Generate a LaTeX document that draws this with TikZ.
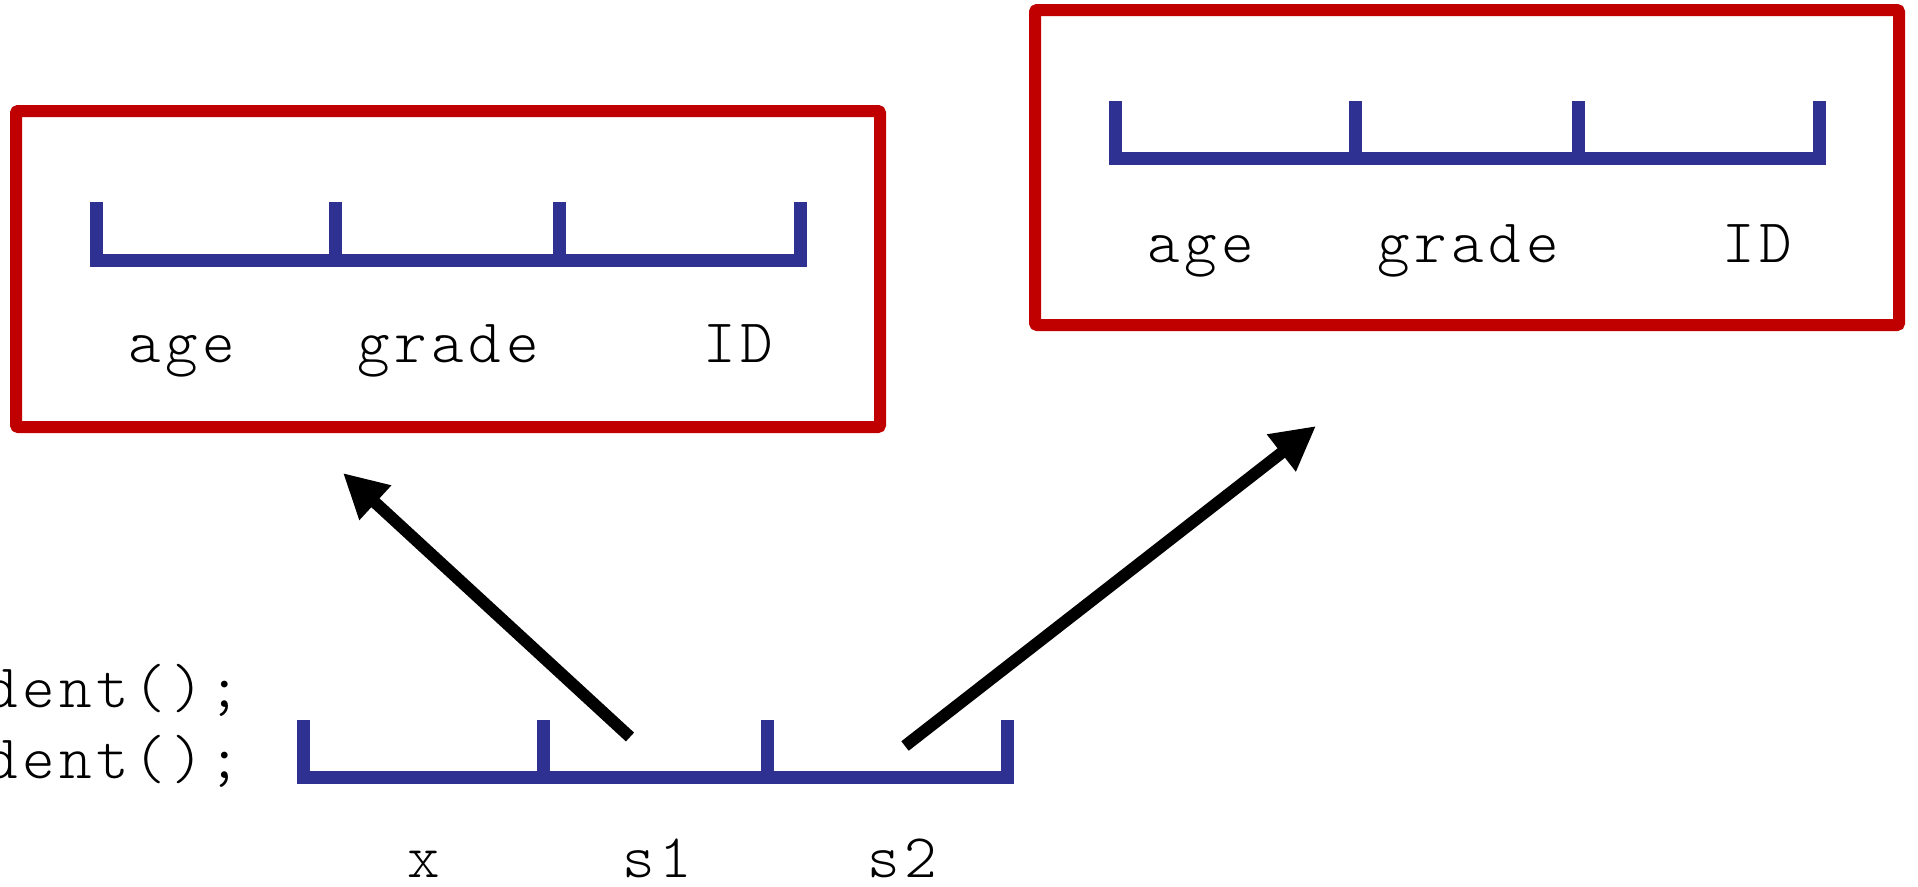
\documentclass[tikz,border=0pt]{standalone}
\usepackage{fontspec}
\newfontfamily\monofont[LetterSpace=7.5]{Latin Modern Mono Light}
\usetikzlibrary{arrows.meta}
\definecolor{boxred}{HTML}{C00000}
\definecolor{barblue}{HTML}{2E3192}
\tikzset{
  redbox/.style={draw=boxred, line width=12pt, rectangle, rounded corners=1pt, line join=round, inner sep=0pt, outer sep=0pt},
  bar/.style={draw=barblue, line width=13pt},
  barbase/.style={draw=barblue, line width=13pt, line cap=rect},
  ptr/.style={draw=black, line width=12pt, -{Triangle[length=44pt,width=44pt]}},
  boxlabel/.style={font=\monofont\fontsize{62}{62}\selectfont, anchor=base, inner sep=0pt},
  varlabel/.style={font=\monofont\fontsize{62}{62}\selectfont, anchor=base, inner sep=0pt, text depth=0pt},
  codeline/.style={font=\monofont\fontsize{62}{62}\selectfont, anchor=base east, inner sep=0pt}
}
\begin{document}
\begin{tikzpicture}[x=1pt, y=-1pt]
\useasboundingbox (0,0) rectangle (1918,886);
% object boxes
\node[redbox, minimum width=864pt, minimum height=316pt] (obj1) at (448,269) {};
\node[redbox, minimum width=864pt, minimum height=315pt] (obj2) at (1467,167.5) {};
% bars inside object 1
\foreach \x in {96,335,559,800} { \draw[bar] (\x,202) -- (\x,260); }
\draw[barbase] (96,260) -- (800,260);
\node[boxlabel] (age1) at (182,362) {age};
\node[boxlabel] (grade1) at (448,362) {grade};
\node[boxlabel] (id1) at (738,362) {ID};
% bars inside object 2
\foreach \x in {1115,1355,1578,1819} { \draw[bar] (\x,101) -- (\x,158); }
\draw[barbase] (1115,158) -- (1819,158);
\node[boxlabel] (age2) at (1201,262) {age};
\node[boxlabel] (grade2) at (1468,262) {grade};
\node[boxlabel] (id2) at (1757,262) {ID};
% variables bar
\foreach \x in {303,543,767,1007} { \draw[bar] (\x,720) -- (\x,777); }
\draw[barbase] (303,777) -- (1007,777);
\node[varlabel] (vx) at (424,877) {x};
\node[varlabel] (vs1) at (657,877) {s1};
\node[varlabel] (vs2) at (902,877) {s2};
% code lines (cut at the left edge)
\begin{scope}
\clip (0,0) rectangle (1918,886);
\node[codeline] (code1) at (241,707) {dent();};
\node[codeline] (code2) at (241,778) {dent();};
\end{scope}
% pointers
\coordinate (p1from) at (630,737);
\coordinate (p1to) at (343,473);
\coordinate (p2from) at (905,746);
\coordinate (p2to) at (1316,426);
\draw[ptr] (p1from) -- (p1to);
\draw[ptr] (p2from) -- (p2to);
\end{tikzpicture}
\end{document}
